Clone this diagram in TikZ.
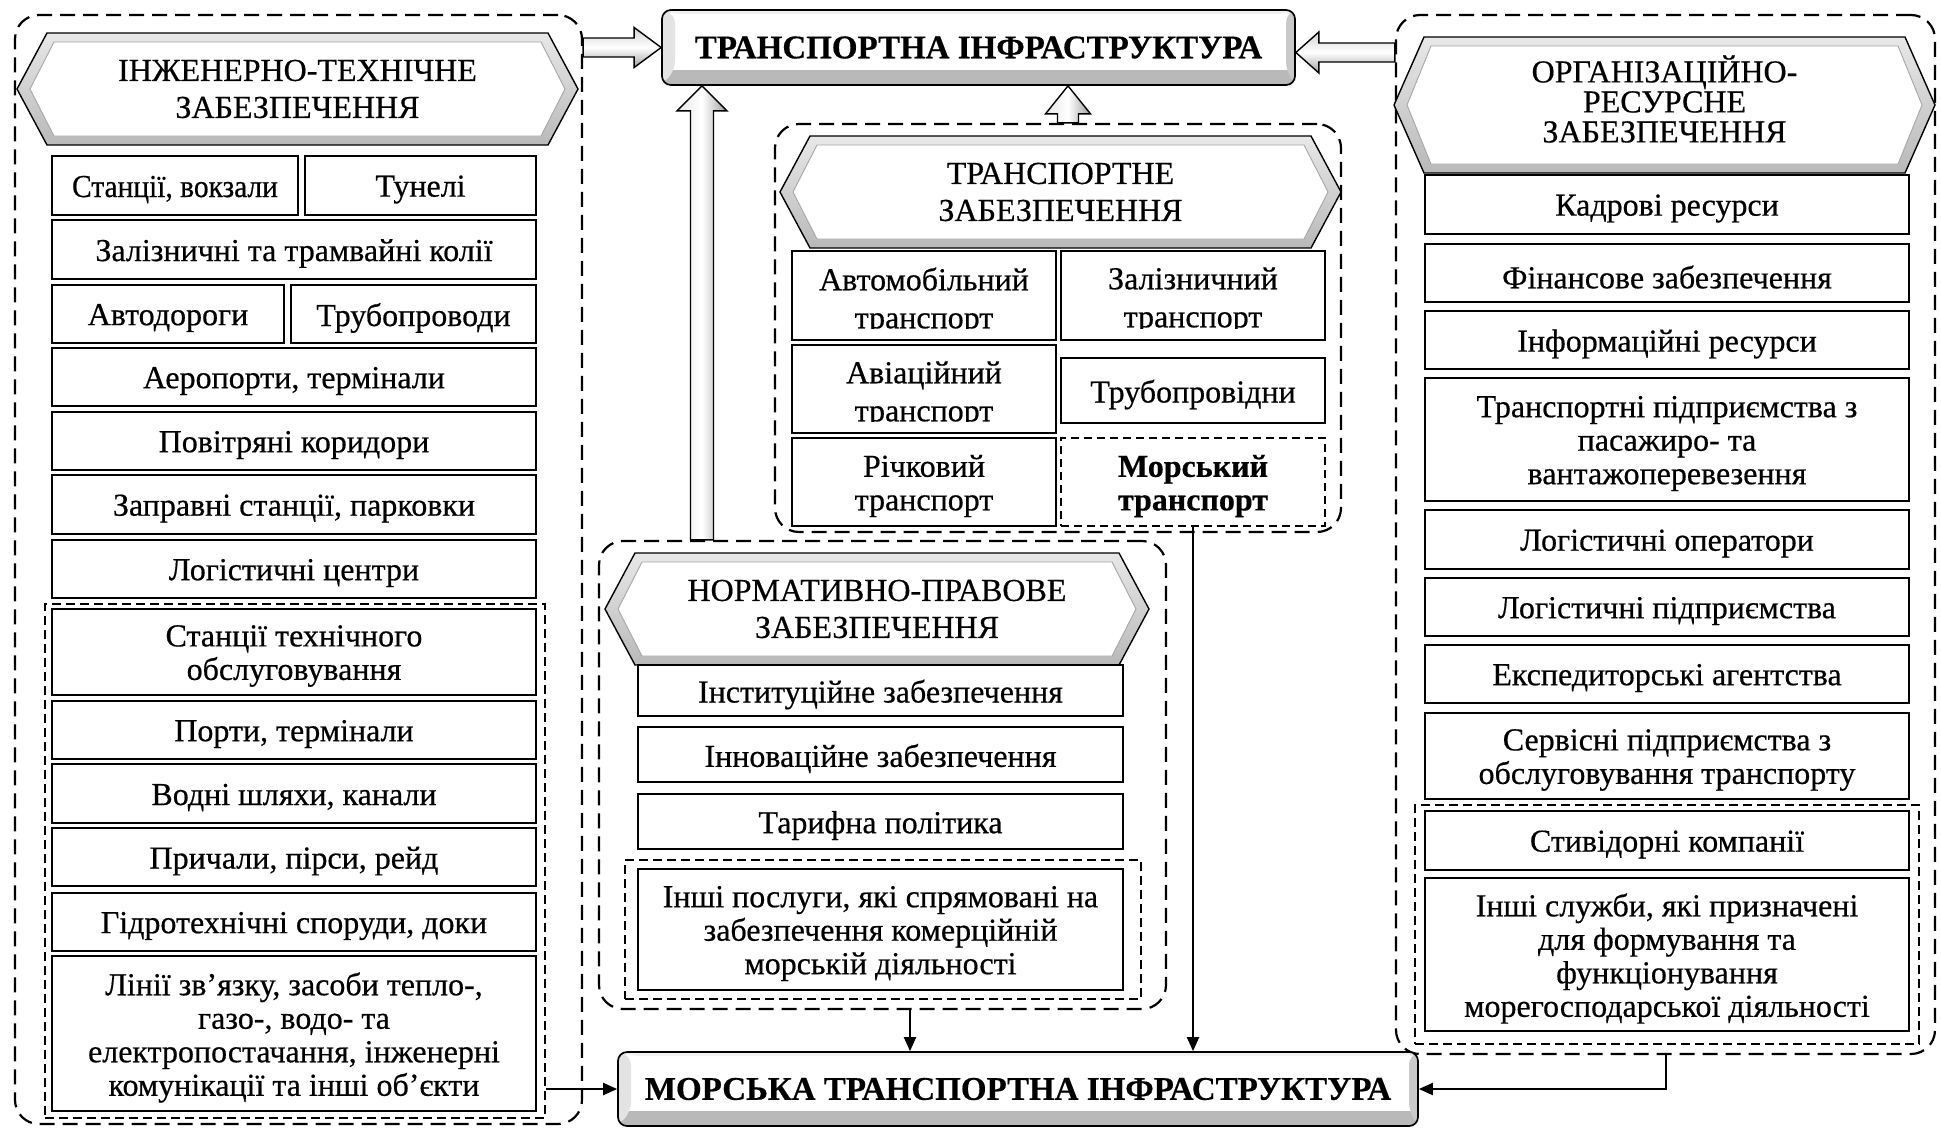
\documentclass[tikz,border=0pt]{standalone}
\usepackage{fontspec}
\setmainfont{Liberation Serif}[FakeBold=0.5]
\usetikzlibrary{arrows.meta,calc}

\newcommand\fsz{\fontsize{32}{33.5}\selectfont}
\newcommand\fhz{\fontsize{32}{37}\selectfont}
\newcommand\fbz{\fontsize{33}{36}\selectfont\bfseries}

\tikzset{
 boxst/.style={draw=black, line width=1.7pt, fill=white, inner sep=0pt},
 txtst/.style={align=center, font=\fsz, inner sep=0pt},
 grpst/.style={draw=black, line width=2.2pt, dash pattern=on 15pt off 8pt, rounded corners=24pt, inner sep=0pt},
 igrpst/.style={draw=black, line width=2.2pt, dash pattern=on 9pt off 5pt, inner sep=0pt},
 thinarr/.style={draw=black, line width=2pt, -{Triangle[length=14pt,width=12pt]}},
 harr/.style={draw=black, line width=1.4pt, top color=gray!35, bottom color=gray!75, middle color=white},
 varr/.style={draw=black, line width=1.4pt, left color=gray!20, right color=gray!75, middle color=white},
 hdr/.style={align=center, font=\fhz},
 bev/.style={draw=black, line width=1.7pt, rounded corners=9pt, fill=white, font=\fbz, path picture={
   \fill[gray!55] (path picture bounding box.south west) rectangle ([yshift=15pt]path picture bounding box.south east);
   \fill[gray!22] (path picture bounding box.north west) -- (path picture bounding box.south west) -- ([xshift=13pt,yshift=15pt]path picture bounding box.south west) -- ([xshift=13pt,yshift=-4pt]path picture bounding box.north west) -- cycle;
   \fill[gray!42] (path picture bounding box.north east) -- (path picture bounding box.south east) -- ([xshift=-9pt,yshift=15pt]path picture bounding box.south east) -- ([xshift=-9pt,yshift=-4pt]path picture bounding box.north east) -- cycle;
   \fill[gray!12] (path picture bounding box.north west) -- (path picture bounding box.north east) -- ([xshift=-9pt,yshift=-4pt]path picture bounding box.north east) -- ([xshift=13pt,yshift=-4pt]path picture bounding box.north west) -- cycle;
 }},
}

% box: [opts]{name}{x1}{y1}{x2}{y2}{text}
\newcommand\bx[7][]{%
 \node[boxst,minimum width={#5-#3},minimum height={#6-#4},#1] (#2) at ({(#3+#5)/2},{(#4+#6)/2}) {};
 \node[txtst,#1,draw=none,fill=none] (#2-t) at ([yshift=-4pt]#2.center) {#7};}
\newcommand\grp[6][]{\node[#1,minimum width={#5-#3},minimum height={#6-#4}] (#2) at ({(#3+#5)/2},{(#4+#6)/2}) {};}
% hexagon header: [opts]{name}{x1}{y1}{x2}{y2}{text}
\newcommand\hexa[7][]{%
 \pgfmathsetmacro\hm{(#4+#6)/2}
 \path[draw=black,line width=1.4pt,top color=gray!18,bottom color=gray!55] (#3,\hm) -- ({#3+30},#4) -- ({#5-30},#4) -- (#5,\hm) -- ({#5-30},#6) -- ({#3+30},#6) -- cycle;
 \filldraw[draw=gray!70,line width=0.9pt,fill=white] ({#3+13},\hm) -- ({#3+37},{#4+9}) -- ({#5-37},{#4+9}) -- ({#5-13},\hm) -- ({#5-37},{#6-9}) -- ({#3+37},{#6-9}) -- cycle;
 \node[hdr,#1] (#2) at ({(#3+#5)/2},\hm) {#7};}
% transport box whose second line is cut by the box
\newcommand\cutbx[6]{%
 \node[boxst,minimum width={#4-#2},minimum height={#5-#3}] (#1) at ({(#2+#4)/2},{(#3+#5)/2}) {};
 \begin{scope}
 \clip ([xshift=1pt,yshift=12pt]#1.south west) rectangle ([xshift=-1pt,yshift=-1pt]#1.north east);
 \node[txtst,font=\fontsize{32}{38}\selectfont,anchor=north] (#1-t) at ([yshift=-17pt]#1.north) {#6};
 \end{scope}}

\begin{document}
\begin{tikzpicture}[x=1pt,y=-1pt]
\useasboundingbox (0,0) rectangle (1941,1128);

% ---------- groups ----------
\grp[grpst]{Lgrp}{15}{15}{582}{1124}
\grp[grpst]{Tgrp}{775}{124}{1341}{532}
\grp[grpst]{Ngrp}{599}{541}{1166}{1009}
\grp[grpst]{Rgrp}{1396}{15}{1935}{1054}
\grp[igrpst]{Linner}{45}{604}{545}{1118}
\grp[igrpst]{Ninner}{625}{860}{1141}{999}
\grp[igrpst]{Rinner}{1415}{805}{1919}{1044}

% ---------- top / bottom ----------
\node[bev,minimum width=633,minimum height=75] (top) at (978.5,47.5) {ТРАНСПОРТНА ІНФРАСТРУКТУРА};
\node[bev,minimum width=800,minimum height=74] (mor) at (1018,1089) {МОРСЬКА ТРАНСПОРТНА ІНФРАСТРУКТУРА};

% ---------- left column ----------
\hexa{hL}{17}{33}{578}{145}{ІНЖЕНЕРНО-ТЕХНІЧНЕ\\ЗАБЕЗПЕЧЕННЯ}
\bx{stv}{52}{156}{298}{215}{\scalebox{0.92}[1]{Станції, вокзали}}
\bx{tun}{305}{156}{536}{215}{Тунелі}
\bx{zal}{52}{220}{536}{279}{Залізничні та трамвайні колії}
\bx{avt}{52}{285}{284}{343}{Автодороги}
\bx{trb}{291}{285}{536}{343}{Трубопроводи}
\bx{aer}{52}{348}{536}{406}{Аеропорти, термінали}
\bx{pov}{52}{412}{536}{470}{Повітряні коридори}
\bx{zap}{52}{475}{536}{534}{Заправні станції, парковки}
\bx{lgc}{52}{540}{536}{598}{Логістичні центри}
\bx{sto}{52}{609}{536}{695}{Станції технічного\\обслуговування}
\bx{por}{52}{701}{536}{759}{Порти, термінали}
\bx{vod}{52}{764}{536}{823}{Водні шляхи, канали}
\bx{pri}{52}{828}{536}{886}{Причали, пірси, рейд}
\bx{gid}{52}{893}{536}{951}{Гідротехнічні споруди, доки}
\bx{lin}{52}{956}{536}{1111}{Лінії зв’язку, засоби тепло-,\\газо-, водо- та\\електропостачання, інженерні\\комунікації та інші об’єкти}

% ---------- transport ----------
\hexa{hT}{780}{136}{1341}{248}{ТРАНСПОРТНЕ\\ЗАБЕЗПЕЧЕННЯ}
\cutbx{auto}{792}{251}{1056}{340}{Автомобільний\\транспорт}
\cutbx{zalt}{1061}{251}{1325}{340}{Залізничний\\транспорт}
\cutbx{avia}{792}{345}{1056}{433}{Авіаційний\\транспорт}
\bx{trubt}{1061}{358}{1325}{423}{Трубопровідни}
\bx{rich}{792}{438}{1056}{526}{Річковий\\транспорт}
\bx[line width=1.6pt,dash pattern=on 8pt off 5pt,font=\fsz\bfseries]{mors}{1061}{438}{1325}{526}{Морський\\транспорт}

% ---------- normative ----------
\hexa{hN}{605}{553}{1149}{665}{НОРМАТИВНО-ПРАВОВЕ\\ЗАБЕЗПЕЧЕННЯ}
\bx{inst}{638}{665}{1123}{716}{Інституційне забезпечення}
\bx{innov}{638}{727}{1123}{782}{Інноваційне забезпечення}
\bx{tar}{638}{794}{1123}{849}{Тарифна політика}
\bx{insh}{638}{869}{1123}{990}{Інші послуги, які спрямовані на\\забезпечення комерційній\\морській діяльності}

% ---------- right column ----------
\hexa[font=\fontsize{32}{30}\selectfont,yshift=6pt]{hR}{1394}{37}{1935}{173}{ОРГАНІЗАЦІЙНО-\\РЕСУРСНЕ\\ЗАБЕЗПЕЧЕННЯ}
\bx{kad}{1425}{175}{1909}{234}{Кадрові ресурси}
\bx{fin}{1425}{244}{1909}{302}{Фінансове забезпечення}
\bx{inf}{1425}{311}{1909}{369}{Інформаційні ресурси}
\bx{tpp}{1425}{378}{1909}{501}{Транспортні підприємства з\\пасажиро- та\\вантажоперевезення}
\bx{lop}{1425}{510}{1909}{569}{Логістичні оператори}
\bx{lpp}{1425}{578}{1909}{636}{Логістичні підприємства}
\bx{eks}{1425}{645}{1909}{703}{Експедиторські агентства}
\bx{ser}{1425}{713}{1909}{799}{Сервісні підприємства з\\обслуговування транспорту}
\bx{stvd}{1425}{811}{1909}{870}{Стивідорні компанії}
\bx{insl}{1425}{878}{1909}{1031}{Інші служби, які призначені\\для формування та\\функціонування\\морегосподарської діяльності}

% ---------- hollow arrows ----------
\path[harr] let \p1=(Lgrp.east), \p2=(top.west) in
 (\x1,\y2+9.5pt) -- (\x2-27pt,\y2+9.5pt) -- (\x2-27pt,\y2+20pt) -- (\x2,\y2) -- (\x2-27pt,\y2-20pt) -- (\x2-27pt,\y2-9.5pt) -- (\x1,\y2-9.5pt) -- cycle;
\path[harr] let \p1=(Rgrp.west), \p2=(top.east) in
 (\x1,\y2+4.5pt) -- (\x2+23pt,\y2+4.5pt) -- (\x2+23pt,\y2+15.5pt) -- (\x2,\y2-5pt) -- (\x2+23pt,\y2-25.5pt) -- (\x2+23pt,\y2-14.5pt) -- (\x1,\y2-14.5pt) -- cycle;
\coordinate (vx) at (702,300);
\path[varr] let \p1=(Ngrp.north), \p2=(top.south), \p3=(vx) in
 (\x3-11.5pt,\y1) -- (\x3-11.5pt,\y2-25pt) -- (\x3-25pt,\y2-25pt) -- (\x3,\y2) -- (\x3+25pt,\y2-25pt) -- (\x3+11.5pt,\y2-25pt) -- (\x3+11.5pt,\y1) -- cycle;
\coordinate (ux) at (1068,100);
\path[varr] let \p1=(Tgrp.north), \p2=(top.south), \p3=(ux) in
 (\x3-10.5pt,\y1) -- (\x3-10.5pt,\y2-28pt) -- (\x3-22.5pt,\y2-28pt) -- (\x3,\y2) -- (\x3+22.5pt,\y2-28pt) -- (\x3+10.5pt,\y2-28pt) -- (\x3+10.5pt,\y1) -- cycle;

% ---------- thin arrows ----------
\coordinate (nx) at (910,1030);
\draw[thinarr] (Ngrp.south -| nx) -- (mor.north -| nx);
\draw[thinarr] (mors.south) -- (mors.south |- mor.north);
\draw[thinarr] (Linner.east |- mor.west) -- (mor.west);
\draw[thinarr] (Rgrp.south) |- (mor.east);
\end{tikzpicture}
\end{document}
